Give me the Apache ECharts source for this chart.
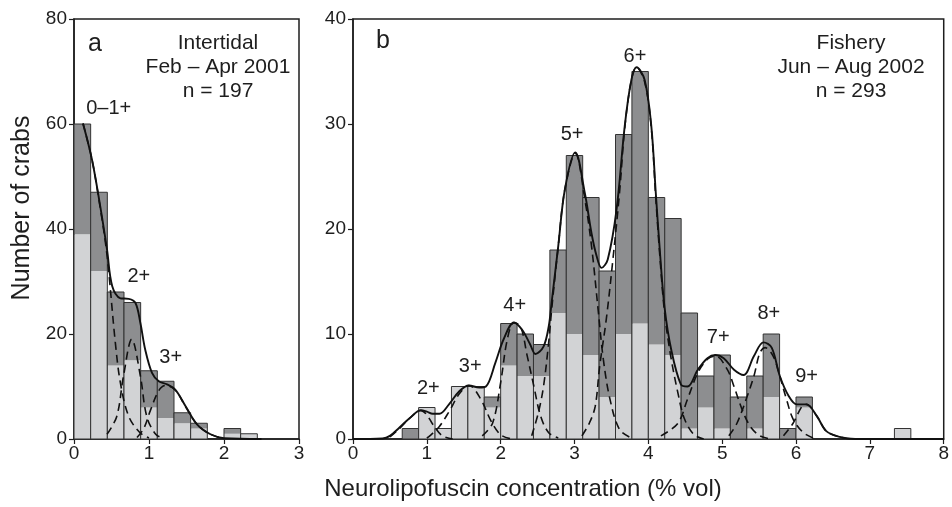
<!DOCTYPE html>
<html>
<head>
<meta charset="utf-8">
<script src="https://cdn.jsdelivr.net/npm/echarts@6/dist/echarts.min.js"></script>
<style>
  html, body { margin: 0; padding: 0; background: #fff; }
  #main { width: 952px; height: 507px; }
</style>
</head>
<body>
<div id="main"></div>
<script>
// histogram bins: width, bins start at 0
var binWidth = 0.2222;

// panel a - Intertidal, light = lower (light grey) part, total = bar height
var aLight = [39, 32, 14, 15, 6, 4, 3, 2, 0, 1, 1];
var aTotal = [60, 47, 28, 26, 13, 11, 5, 3, 0, 2, 1];

// panel b - Fishery
var bLight = [0, 0, 0, 0, 3, 1, 5, 5, 3, 7, 6, 6, 12, 10, 8, 4, 10, 11, 9, 8, 1, 3, 1, 0, 1, 4, 0, 3, 0, 0, 0, 0, 0, 1];
var bTotal = [0, 0, 0, 1, 3, 1, 5, 5, 4, 11, 10, 9, 18, 27, 23, 16, 29, 35, 23, 21, 12, 6, 8, 4, 6, 10, 1, 4, 0, 0, 0, 0, 0, 1];

// fitted curves, points [x, y]
var aSum = [[0.12, 60.1], [0.24, 53.2], [0.35, 44.3], [0.44, 36.1], [0.51, 29.1], [0.62, 26.8], [0.73, 26.7],
  [0.82, 25.9], [0.885, 22.1], [0.95, 17.0], [1.04, 12.6], [1.13, 11.0], [1.24, 10.4], [1.35, 9.4], [1.49, 6.2],
  [1.64, 2.8], [1.82, 0.9], [2.0, 0.15], [2.5, 0]];
var aC01 = [[0.12, 60.1], [0.24, 53.2], [0.35, 44.0], [0.44, 35.0], [0.55, 18.5], [0.62, 10.6], [0.73, 4.3], [0.88, 1.2], [1.0, 0.2]];
var aC2 = [[0.44, 0.9], [0.57, 4.3], [0.66, 12.0], [0.77, 19.0], [0.885, 12.0], [0.97, 4.3], [1.09, 0.9], [1.2, 0.1]];
var aC3 = [[0.84, 0.3], [0.93, 2.0], [1.02, 5.5], [1.13, 9.2], [1.22, 10.2], [1.35, 9.3], [1.49, 6.1], [1.64, 2.8], [1.82, 0.9], [2.0, 0.1]];

var bSum = [[0, 0], [0.4, 0.05], [0.5, 0.3], [0.63, 1.1], [0.77, 2.0], [0.92, 2.75], [1.0, 2.6], [1.08, 2.4], [1.17, 2.4],
  [1.30, 3.3], [1.44, 4.55], [1.57, 5.1], [1.71, 4.9], [1.80, 5.0], [1.93, 7.3], [2.04, 9.5], [2.18, 11.1], [2.29, 10.4],
  [2.40, 9.0], [2.47, 8.1], [2.58, 8.8], [2.65, 10.7], [2.69, 13.0], [2.78, 18.4], [2.87, 23.8], [3.01, 27.3], [3.14, 23.4],
  [3.23, 19.6], [3.30, 17.4], [3.365, 16.3], [3.45, 17.1], [3.57, 21.9], [3.68, 29.8], [3.77, 34.2], [3.84, 35.4],
  [3.95, 34.2], [4.04, 29.8], [4.10, 23.5], [4.16, 17.5], [4.22, 12.5], [4.31, 8.5], [4.44, 5.2], [4.53, 5.0], [4.67, 6.6],
  [4.80, 7.7], [4.91, 8.0], [5.02, 7.7], [5.16, 6.6], [5.29, 6.1], [5.43, 7.9], [5.56, 9.2], [5.67, 8.7], [5.78, 6.0],
  [5.90, 4.1], [6.01, 3.3], [6.14, 3.3], [6.28, 2.2], [6.41, 0.75], [6.59, 0.2], [6.8, 0], [8, 0]];
var bC2 = [[0.5, 0.2], [0.63, 1.0], [0.77, 2.0], [0.92, 2.7], [1.0, 2.3], [1.08, 1.4], [1.21, 0.3], [1.35, 0]];
var bC3 = [[1.0, 0.1], [1.04, 0.3], [1.17, 1.2], [1.30, 2.6], [1.44, 4.3], [1.57, 5.1], [1.73, 3.8], [1.87, 1.7], [2.0, 0.4], [2.15, 0]];
var bC4 = [[1.75, 0.3], [1.89, 1.5], [2.0, 5.4], [2.09, 9.5], [2.18, 11.1], [2.27, 10.7], [2.36, 7.9], [2.45, 5.0],
  [2.54, 2.2], [2.65, 0.6], [2.78, 0.1]];
var bC5 = [[2.42, 0.3], [2.51, 2.5], [2.58, 5.0], [2.65, 9.2], [2.69, 12.3], [2.78, 18.4], [2.87, 23.8], [3.01, 27.2],
  [3.14, 22.8], [3.23, 18.4], [3.32, 12.3], [3.39, 7.6], [3.48, 3.8], [3.61, 0.9], [3.77, 0.1]];
var bC6 = [[3.10, 0.3], [3.20, 1.5], [3.28, 3.1], [3.34, 6.9], [3.43, 11.4], [3.52, 17.1], [3.61, 23.5], [3.68, 29.6],
  [3.77, 34.2], [3.84, 35.4], [3.95, 34.0], [4.04, 29.6], [4.10, 23.0], [4.16, 17.0], [4.22, 12.0], [4.30, 8.0],
  [4.40, 4.4], [4.49, 1.9], [4.62, 0.4], [4.75, 0]];
var bC7 = [[4.17, 0.3], [4.40, 1.5], [4.53, 3.8], [4.67, 6.3], [4.80, 7.6], [4.91, 7.9], [5.07, 6.6], [5.16, 5.0],
  [5.27, 2.8], [5.38, 1.2], [5.51, 0.3], [5.65, 0]];
var bC8 = [[5.09, 0.3], [5.20, 1.5], [5.34, 4.1], [5.43, 6.0], [5.51, 8.2], [5.58, 8.7], [5.69, 7.9], [5.78, 6.0],
  [5.87, 3.8], [5.96, 1.9], [6.10, 0.6], [6.23, 0.1]];
var bC9 = [[5.83, 0.3], [5.96, 1.5], [6.08, 3.1], [6.14, 3.3], [6.28, 2.2], [6.41, 0.75], [6.59, 0.2], [6.75, 0]];

// age class labels [x, y, text]
var aLabels = [[0.463, 63.0, '0–1+'], [0.864, 31.0, '2+'], [1.29, 15.5, '3+']];
var bLabels = [[1.02, 4.8, '2+'], [1.587, 6.9, '3+'], [2.19, 12.7, '4+'], [2.967, 29.0, '5+'], [3.818, 36.4, '6+'],
  [4.946, 9.7, '7+'], [5.631, 12.0, '8+'], [6.143, 5.95, '9+']];

var font = '"Liberation Sans", Arial, sans-serif';
var ink = '#1e1e1e';
var darkGrey = '#8d8e90';
var lightGrey = '#d2d3d5';

function toBins(light, total) {
    var out = [];
    for (var i = 0; i < total.length; i++) {
        if (total[i] > 0) out.push([i * binWidth, (i + 1) * binWidth, light[i], total[i]]);
    }
    return out;
}

function renderBar(params, api) {
    var x0 = api.value(0), x1 = api.value(1), lo = api.value(2), hi = api.value(3);
    var pBase = api.coord([x0, 0]);
    var pLight = api.coord([x1, lo]);
    var pTop = api.coord([x1, hi]);
    var w = pTop[0] - pBase[0];
    var children = [];
    if (lo > 0) children.push({ type: 'rect', shape: { x: pBase[0], y: pLight[1], width: w, height: pBase[1] - pLight[1] },
        style: { fill: lightGrey } });
    if (hi > lo) children.push({ type: 'rect', shape: { x: pBase[0], y: pTop[1], width: w, height: pLight[1] - pTop[1] },
        style: { fill: darkGrey } });
    children.push({ type: 'rect', shape: { x: pBase[0], y: pTop[1], width: w, height: pBase[1] - pTop[1] },
        style: { fill: 'none', stroke: '#333', lineWidth: 1 } });
    return { type: 'group', children: children };
}

// text labels placed at data coordinates
function renderLabel(params, api) {
    var p = api.coord([api.value(0), api.value(1)]);
    return { type: 'text', x: p[0], y: p[1],
        style: { text: labelText[params.seriesIndex][params.dataIndex], font: '20px ' + font, fill: ink,
            textAlign: 'center', textVerticalAlign: 'middle' } };
}

function curve(data, idx, dashed) {
    return {
        type: 'line', xAxisIndex: idx, yAxisIndex: idx, data: data, smooth: 0.35,
        symbol: 'none', silent: true, z: dashed ? 3 : 4,
        lineStyle: { color: '#111', width: dashed ? 1.6 : 1.9, type: dashed ? [8, 5] : 'solid' }
    };
}

var labelText = {};
function labels(list, idx, seriesIndex) {
    labelText[seriesIndex] = list.map(function (d) { return d[2]; });
    return {
        type: 'custom', xAxisIndex: idx, yAxisIndex: idx, silent: true, z: 5, renderItem: renderLabel,
        data: list.map(function (d) { return [d[0], d[1]]; })
    };
}

function xAx(idx, max) {
    return {
        gridIndex: idx, type: 'value', min: 0, max: max, interval: 1,
        axisLine: { show: true, onZero: false, lineStyle: { color: ink, width: 1.5 } },
        axisTick: { show: true, length: 5, lineStyle: { color: ink, width: 1.2 } },
        axisLabel: { fontSize: 19, color: ink, margin: 5, fontFamily: font },
        splitLine: { show: false }
    };
}

function yAx(idx, max, step) {
    return {
        gridIndex: idx, type: 'value', min: 0, max: max, interval: step,
        axisLine: { show: true, lineStyle: { color: ink, width: 1.5 } },
        axisTick: { show: true, length: 5, lineStyle: { color: ink, width: 1.2 } },
        axisLabel: { fontSize: 19, color: ink, margin: 7, fontFamily: font },
        splitLine: { show: false }
    };
}

var myChart = echarts.init(document.getElementById('main'));

var series = [
    { type: 'custom', xAxisIndex: 0, yAxisIndex: 0, renderItem: renderBar, data: toBins(aLight, aTotal), z: 2, silent: true },
    { type: 'custom', xAxisIndex: 1, yAxisIndex: 1, renderItem: renderBar, data: toBins(bLight, bTotal), z: 2, silent: true },
    curve(aC01, 0, true), curve(aC2, 0, true), curve(aC3, 0, true), curve(aSum, 0, false),
    curve(bC2, 1, true), curve(bC3, 1, true), curve(bC4, 1, true), curve(bC5, 1, true), curve(bC6, 1, true),
    curve(bC7, 1, true), curve(bC8, 1, true), curve(bC9, 1, true), curve(bSum, 1, false)
];
series.push(labels(aLabels, 0, series.length));
series.push(labels(bLabels, 1, series.length));

var option = {
    animation: false,
    backgroundColor: '#fff',
    grid: [
        { left: 74, top: 19, width: 225, height: 420, show: true, borderColor: ink, borderWidth: 1.5, backgroundColor: 'transparent' },
        { left: 353, top: 19, width: 595, height: 420, show: true, borderColor: ink, borderWidth: 1.5, backgroundColor: 'transparent' }
    ],
    xAxis: [xAx(0, 3), xAx(1, 8)],
    yAxis: [yAx(0, 80, 20), yAx(1, 40, 10)],
    graphic: [
        { type: 'text', left: 88, top: 32, style: { text: 'a', font: '25px ' + font, fill: ink } },
        { type: 'text', left: 376, top: 29, style: { text: 'b', font: '25px ' + font, fill: ink } },
        { type: 'text', x: 218, y: 31, style: { text: 'Intertidal\nFeb – Apr 2001\nn = 197', font: '21px ' + font,
            lineHeight: 24, fill: ink, textAlign: 'center' } },
        { type: 'text', x: 851, y: 31, style: { text: 'Fishery\nJun – Aug 2002\nn = 293', font: '21px ' + font,
            lineHeight: 24, fill: ink, textAlign: 'center' } },
        { type: 'text', x: 22, y: 208, rotation: Math.PI / 2, style: { text: 'Number of crabs', font: '25px ' + font,
            fill: ink, textAlign: 'center', textVerticalAlign: 'middle' } },
        { type: 'text', x: 523, y: 489, style: { text: 'Neurolipofuscin concentration (% vol)', font: '24px ' + font,
            fill: ink, textAlign: 'center', textVerticalAlign: 'middle' } }
    ],
    series: series
};

myChart.setOption(option);
</script>
</body>
</html>
